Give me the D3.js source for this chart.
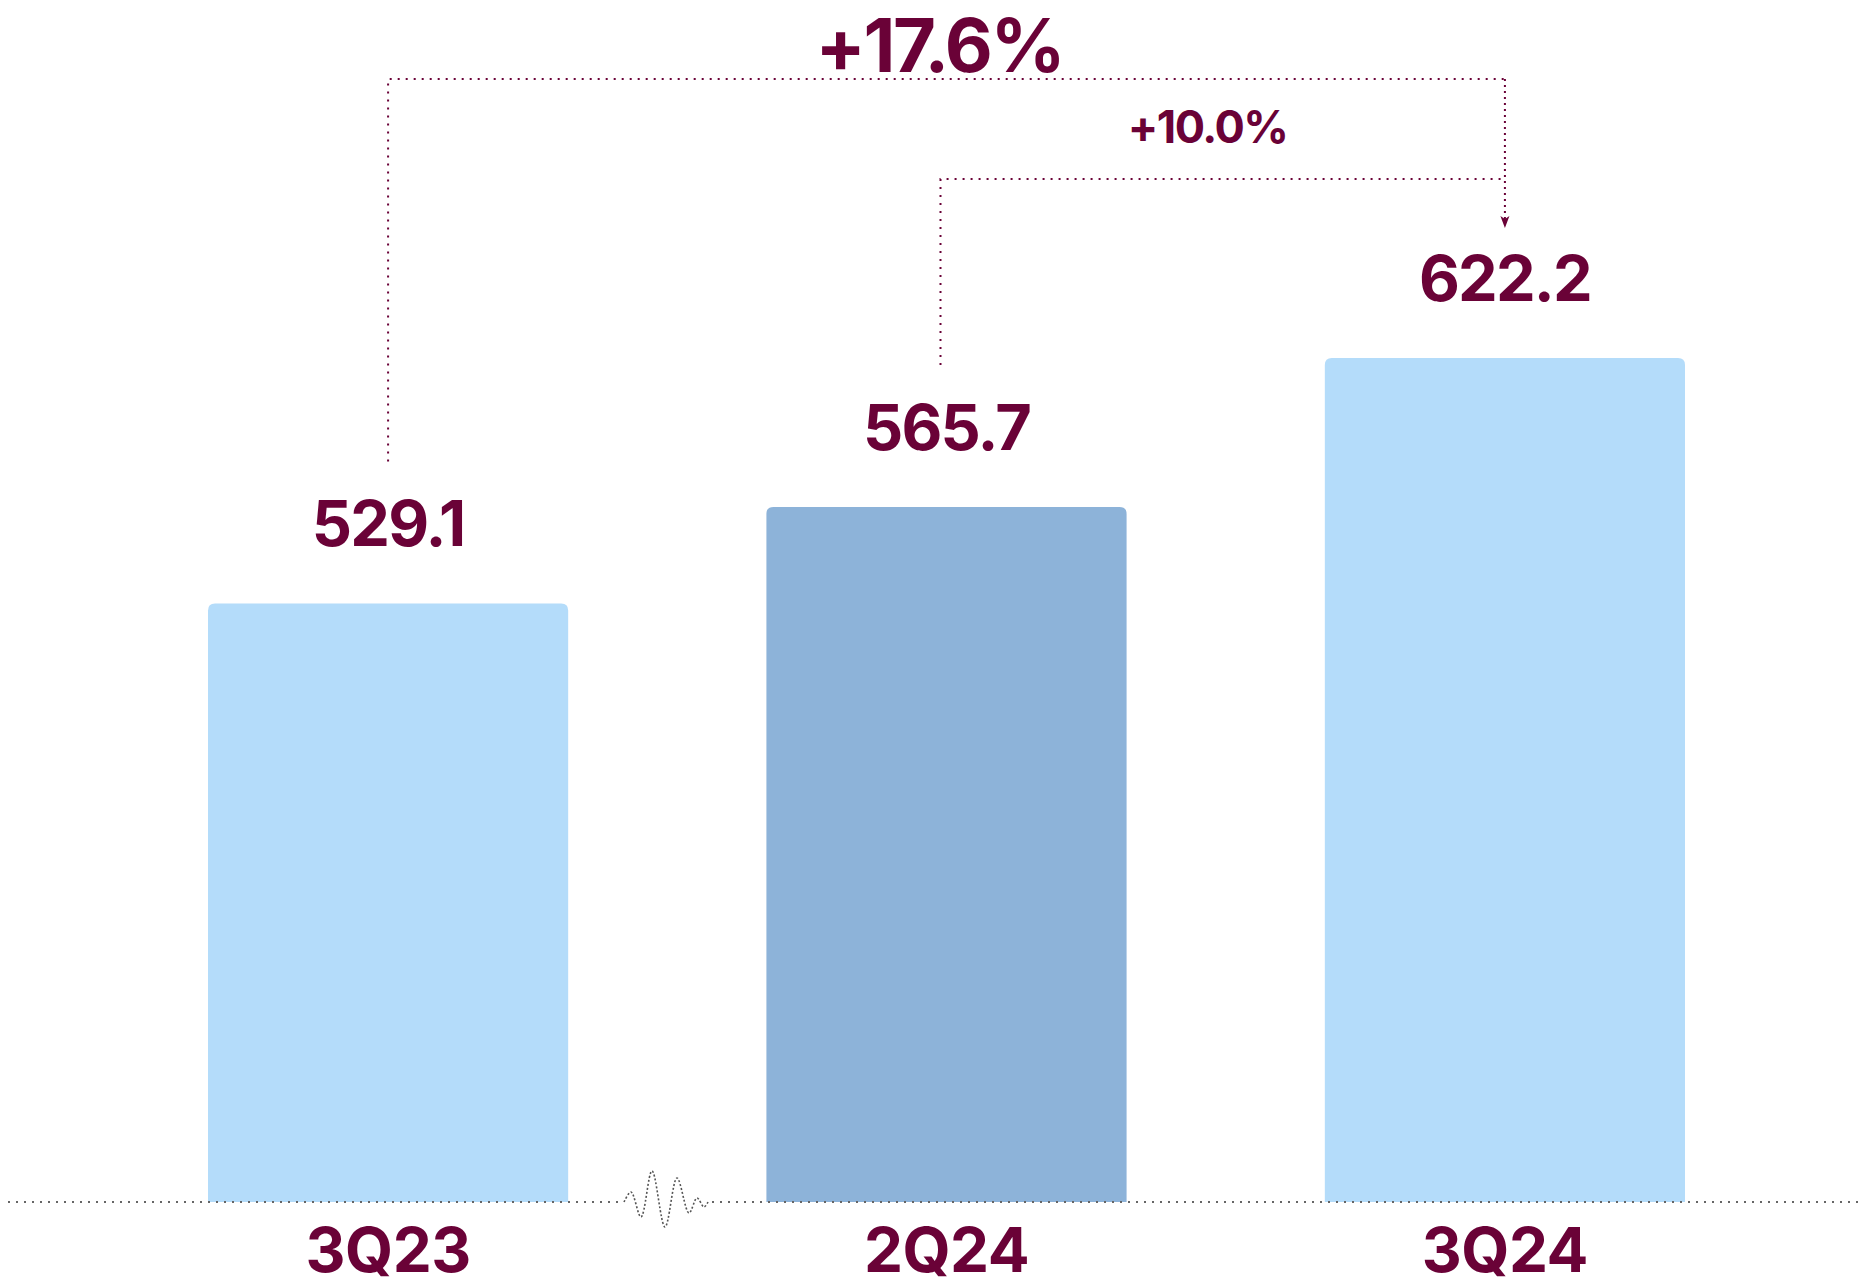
<!DOCTYPE html>
<html>
<head>
<meta charset="utf-8">
<script src="https://cdn.jsdelivr.net/npm/d3@7"></script>
<style>
  body { margin: 0; background: #fff; }
  svg { display: block; }
  text { font-family: Inter, "Open Sans", sans-serif; }
</style>
</head>
<body>
<svg id="chart"></svg>
<script>
// data
const quarters = ["3Q23", "2Q24", "3Q24"];
const values = [529.1, 565.7, 622.2];
const highlight = ["3Q23", "3Q24"]; // light bars, the other one is darker
const growthLabels = [
  { from: "3Q23", to: "3Q24", label: "+17.6%" },
  { from: "2Q24", to: "3Q24", label: "+10.0%" }
];

const width = 1863, height = 1286;
const maroon = "#6a0237";
const light = "#b4dcfa", dark = "#8db3d9";

let svg = d3.select("#chart").attr("width", width).attr("height", height);

let x = d3.scaleBand().domain(quarters).range([208, 1685]).paddingInner(0.355).paddingOuter(0);
// axis is broken, so the scale doesn't start at zero
let y = d3.scaleLinear().domain([302, 622.2]).range([1202, 358]);

let data = quarters.map((q, i) => ({ q: q, v: values[i] }));

// bars with rounded top corners
function barPath(d) {
  let x0 = x(d.q), x1 = x0 + x.bandwidth(), y0 = y(d.v), y1 = y(302), r = 7;
  return `M${x0},${y1}V${y0 + r}Q${x0},${y0} ${x0 + r},${y0}H${x1 - r}Q${x1},${y0} ${x1},${y0 + r}V${y1}Z`;
}

svg.append("g")
  .selectAll("path")
  .data(data)
  .enter()
  .append("path")
  .attr("d", barPath)
  .attr("fill", (d) => (highlight.includes(d.q) ? light : dark));

// dotted baseline
svg.append("line")
  .attr("x1", 8).attr("x2", width)
  .attr("y1", y(302)).attr("y2", y(302))
  .attr("stroke", "#666")
  .attr("stroke-width", 2)
  .attr("stroke-dasharray", "2,6");

// axis break squiggle
let bx = 624, by = y(302);
let wave = [[0, 0], [7, -10], [17, 15], [28, -31], [41, 25], [53, -24], [65, 11], [73, -4], [80, 5], [84, 0]];
svg.append("rect").attr("x", bx).attr("y", by - 3).attr("width", 84).attr("height", 6).attr("fill", "#fff");
svg.append("path")
  .attr("d", d3.line().x((p) => bx + p[0]).y((p) => by + p[1]).curve(d3.curveCatmullRom)(wave))
  .attr("fill", "none")
  .attr("stroke", "#555")
  .attr("stroke-width", 1.6)
  .attr("stroke-dasharray", "2,2");

// category labels
svg.append("g")
  .selectAll("text")
  .data(data)
  .enter()
  .append("text")
  .attr("x", (d) => x(d.q) + x.bandwidth() / 2)
  .attr("y", 1272)
  .attr("text-anchor", "middle")
  .attr("fill", maroon)
  .attr("font-size", 62)
  .attr("font-weight", 700)
  .attr("letter-spacing", -0.5)
  .text((d) => d.q);

// value labels
const labelGap = 57;
svg.append("g")
  .selectAll("text")
  .data(data)
  .enter()
  .append("text")
  .attr("x", (d) => x(d.q) + x.bandwidth() / 2)
  .attr("y", (d) => y(d.v) - labelGap)
  .attr("text-anchor", "middle")
  .attr("fill", maroon)
  .attr("font-size", 63)
  .attr("font-weight", 700)
  .attr("letter-spacing", -1.8)
  .text((d) => d.v.toFixed(1));

// growth brackets
let cx = (q) => x(q) + x.bandwidth() / 2;
let valOf = (q) => values[quarters.indexOf(q)];

let levels = [79, 179];
growthLabels.forEach((g, i) => {
  let ly = levels[i];
  let x0 = cx(g.from) - (i == 0 ? 0 : 6), x1 = cx(g.to);
  svg.append("path")
    .attr("d", `M${x0},${y(valOf(g.from)) - 142}V${ly}H${x1}`)
    .attr("fill", "none")
    .attr("stroke", maroon)
    .attr("stroke-width", 2)
    .attr("stroke-dasharray", "2,6");
  let lbl = svg.append("text")
    .attr("fill", maroon)
    .attr("font-weight", 700)
    .attr("text-anchor", "middle")
    .text(g.label);
  if (i == 0) {
    lbl.attr("x", (x0 + x1) / 2 - 7).attr("y", ly - 7).attr("font-size", 74).attr("letter-spacing", -2.3);
  } else {
    lbl.attr("x", (x0 + x1) / 2 - 15).attr("y", ly - 36).attr("font-size", 45).attr("letter-spacing", -1.5);
  }
});

// shared arrow down to the last bar
let last = growthLabels[0].to;
let tipY = y(valOf(last)) - 130;
svg.append("line")
  .attr("x1", cx(last)).attr("x2", cx(last))
  .attr("y1", levels[0]).attr("y2", tipY - 8)
  .attr("stroke", maroon)
  .attr("stroke-width", 2)
  .attr("stroke-dasharray", "2,4");
svg.append("path")
  .attr("d", `M${cx(last) - 4.5},${tipY - 12}L${cx(last)},${tipY - 9}L${cx(last) + 4.5},${tipY - 12}L${cx(last)},${tipY}Z`)
  .attr("fill", maroon);
</script>
</body>
</html>
